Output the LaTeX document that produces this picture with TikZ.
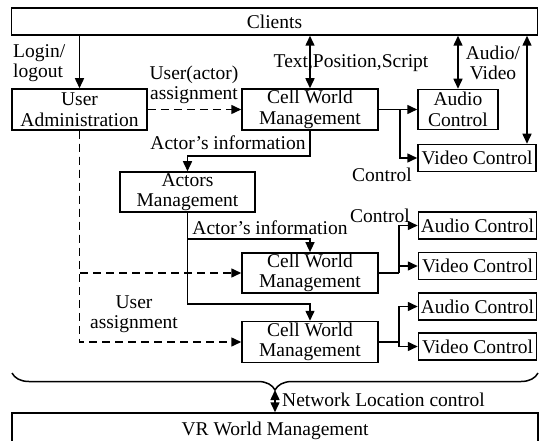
\documentclass[tikz,border=0pt]{standalone}
\usepackage{fontspec}
\setmainfont{Liberation Serif}
\usetikzlibrary{arrows.meta,positioning,calc,decorations.pathreplacing}

\begin{document}
\begin{tikzpicture}[
  x=1pt, y=-1pt,
  font=\fontsize{19.5}{20.5}\selectfont,
  box/.style={draw, line width=1.5pt, align=center, inner sep=1pt, minimum width=136pt, minimum height=41pt},
  ctrlbox/.style={draw, line width=1.5pt, inner sep=1pt, minimum width=118pt, minimum height=27pt},
  widebox/.style={draw, line width=1.5pt, inner sep=1pt, minimum width=526pt, minimum height=27pt},
  channel/.style={-{Triangle[length=10pt,width=9pt]}, line width=1.5pt},
  twoway/.style={{Triangle[length=10pt,width=9pt]}-{Triangle[length=10pt,width=9pt]}, line width=1.5pt},
  assign/.style={-{Triangle[length=10pt,width=9pt]}, line width=1.5pt, dash pattern=on 8pt off 5pt},
  note/.style={align=center, inner sep=0pt}
]

\path[use as bounding box] (0,0) rectangle (544,441);
\clip (0,0) rectangle (544,441);

\node[widebox] (clients) at (274.5,21.5) {Clients};
\node[box, minimum width=135pt] (useradm) at (79.5,109.5) {User\\Administration};
\node[box] (cwm1) at (310,109.5) {Cell World\\Management};
\node[box, minimum width=80pt, minimum height=40pt] (ac1) at (458,109.5) {Audio\\Control};
\node[ctrlbox] (vc1) at (477,158) {Video Control};
\node[box, minimum width=135pt, minimum height=40pt] (actors) at (187.5,192) {Actors\\Management};
\node[box, minimum height=40pt] (cwm2) at (310,273) {Cell World\\Management};
\node[box] (cwm3) at (310,342) {Cell World\\Management};
\node[ctrlbox] (ac2) at (477.5,225.5) {Audio Control};
\node[ctrlbox] (vc2) at (477.5,266) {Video Control};
\node[ctrlbox] (ac3) at (477.5,306.5) {Audio Control};
\node[ctrlbox] (vc3) at (477.5,346.5) {Video Control};
\node[widebox, minimum height=36pt] (vr) at (275,431) {VR World Management};

\node[note, align=left, anchor=west] (loginlbl) at (13,63) {Login/\\logout};
\node[note] (assignlbl) at (194,85) {User(actor)\\assignment};
\node[note] (tpslbl) at (351,63) {Text,Position,Script};
\node[note] (avlbl) at (493,63) {Audio/\\Video};
\node[note] (ctrllbl1) at (382,175) {Control};
\node[note] (infolbl1) at (228,143) {Actor’s information};
\node[note] (infolbl2) at (270,228) {Actor’s information};
\node[note] (ctrllbl2) at (380,216) {Control};
\node[note] (userlbl) at (134,314) {User\\assignment};
\node[note, anchor=west] (netlbl) at (282,400) {Network Location control};

\coordinate (vcin) at ($(vc1.north)+(50,0)$);
\coordinate (split1) at ($(cwm1.east)+(21,0)$);
\coordinate (split2) at ($(cwm2.east)+(20,0)$);
\coordinate (split3) at ($(cwm3.east)+(20,0)$);
\coordinate (braceL) at (12,373);
\coordinate (braceR) at (538,373);
\coordinate (bracetip) at (275,390);

\draw[channel] (useradm.north |- clients.south) -- (useradm.north);
\draw[twoway] (cwm1.north |- clients.south) -- (cwm1.north);
\draw[twoway] (ac1.north |- clients.south) -- (ac1.north);
\draw[twoway] (vcin |- clients.south) -- (vcin);

\draw[assign] (useradm.east) -- (cwm1.west);
\draw[assign] (useradm.south) |- (cwm2.west);
\draw[assign] (useradm.south) |- (cwm3.west);

\draw[channel] (cwm1.east) -- (ac1.west);
\draw[channel] (split1) |- (vc1.west);
\draw[line width=1.5pt] (cwm2.east) -- (split2);
\draw[channel] (split2) |- (ac2.west);
\draw[channel] (split2) |- (vc2.west);
\draw[line width=1.5pt] (cwm3.east) -- (split3);
\draw[channel] (split3) |- (ac3.west);
\draw[channel] (split3) |- (vc3.west);

\draw[channel] (cwm1.south) |- ($(actors.north)+(0,-15)$) -- (actors.north);
\draw[channel] (actors.south) |- ($(cwm2.north)+(0,-13)$) -- (cwm2.north);
\draw[channel] (actors.south) |- ($(cwm3.north)+(0,-17)$) -- (cwm3.north);

\draw[line width=1.5pt, decorate, decoration={brace, mirror, amplitude=17pt}] (braceL) -- (braceR);
\draw[twoway] (bracetip) -- (vr.north);

\end{tikzpicture}
\end{document}
